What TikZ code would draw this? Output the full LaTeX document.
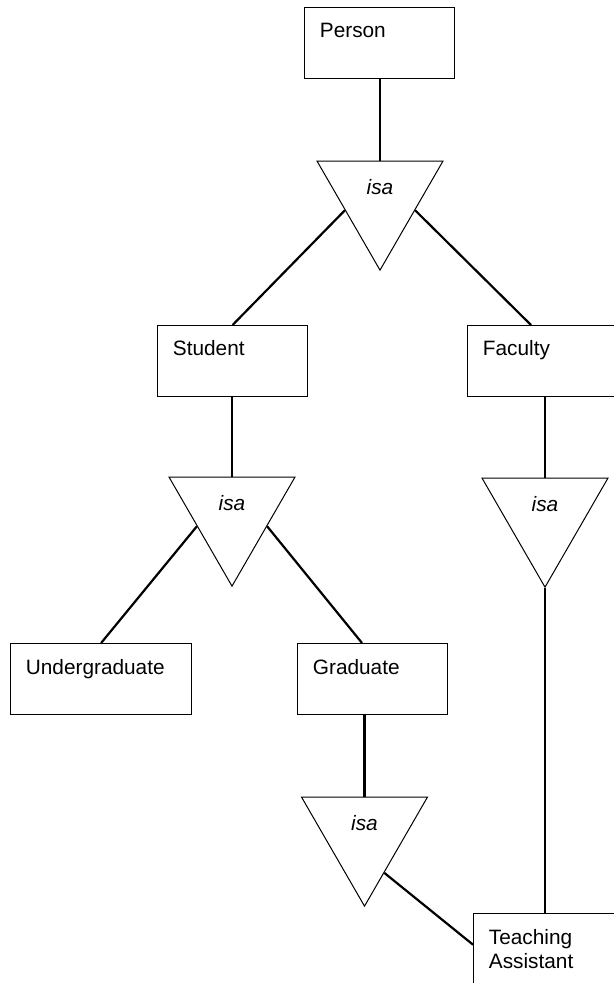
\documentclass[tikz,border=0pt]{standalone}
\usepackage{fontspec}
\setmainfont{Liberation Sans}
\usetikzlibrary{shapes.geometric,calc}

\begin{document}
\begin{tikzpicture}[x=0.5pt,y=-0.5pt,
  every node/.style={font=\fontsize{10.4}{12}\selectfont},
  entity/.style={draw,line width=0.6pt,anchor=north west,minimum height=35.5pt,inner sep=0pt,
    label={[anchor=base west,inner sep=0pt,xshift=7.75pt,yshift=-15.5pt]north west:#1}},
  isa/.style={draw,line width=0.5pt,regular polygon,regular polygon sides=3,shape border rotate=180,
    minimum size=72.75pt,inner sep=0pt,
    label={[font=\fontsize{10.4}{12}\selectfont\itshape,anchor=base,inner sep=0pt,label distance=0pt,yshift=5.2pt]center:isa}},
  link/.style={line width=1.1pt}]
\clip (0,0) rectangle (614,983);
% entity sets
\node[entity=Person,minimum width=75pt] (person) at (304,7) {};
\node[entity=Student,minimum width=75pt] (student) at (157,325) {};
\node[entity=Faculty,minimum width=80pt] (faculty) at (467,325) {};
\node[entity=Undergraduate,minimum width=90.5pt] (under) at (10,643) {};
\node[entity=Graduate,minimum width=75pt] (grad) at (297,643) {};
\node[entity={\vtop{\hbox{Teaching}\hbox{Assistant}}},minimum width=80pt,minimum height=40pt] (ta) at (473,913) {};
% isa triangles
\node[isa] (isaper) at (380,197.4) {};
\node[isa] (isastu) at (232,513.4) {};
\node[isa] (isafac) at (545,514.4) {};
\node[isa] (isagrad) at (364.5,833.4) {};
% links
\draw[link] (isaper.side 2 |- person.south) -- (isaper.side 2);
\draw[link] ($(isaper.corner 3)!0.45!(isaper.corner 1)$) -- (student.north);
\draw[link] ($(isaper.corner 2)!0.45!(isaper.corner 1)$) -- ($(faculty.north west)+(64,0)$);
\draw[link] (isastu.side 2 |- student.south) -- (isastu.side 2);
\draw[link] ($(isastu.corner 3)!0.45!(isastu.corner 1)$) -- (under.north);
\draw[link] ($(isastu.corner 2)!0.45!(isastu.corner 1)$) -- ($(grad.north west)+(65,0)$);
\draw[link] (isafac.side 2 |- faculty.south) -- (isafac.side 2);
\draw[link] (isagrad.side 2 |- grad.south) -- (isagrad.side 2);
\draw[link] (isafac.corner 1) -- (isafac.corner 1 |- ta.north);
\draw[link] ($(isagrad.corner 2)!0.69!(isagrad.corner 1)$) -- ($(ta.north west)!0.39!(ta.south west)$);
\end{tikzpicture}
\end{document}
